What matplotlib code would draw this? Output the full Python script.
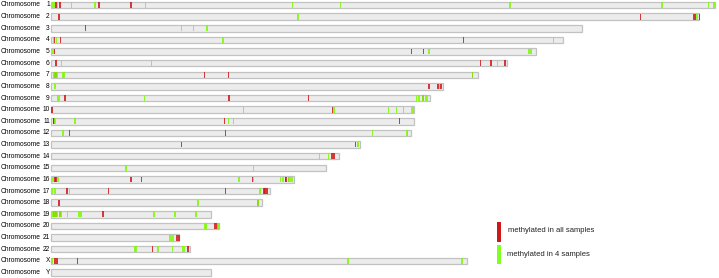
import matplotlib.pyplot as plt
from matplotlib.patches import Rectangle

# chromosome names and lengths (Mb)
chroms = [str(i) for i in range(1, 23)] + ["X", "Y"]
lengths = [249, 243, 199, 192, 182, 171, 160, 147, 142, 136, 136, 135,
           116, 108, 103, 91, 82, 79, 60, 63, 48, 52, 156, 60]

# methylated in all samples (red) - positions in Mb
red = {
    "1": [1.9, 3.4, 18.1, 29.9],
    "2": [3.1, 221.1, 241.0, 241.6, 243.1],
    "3": [13.0],
    "4": [1.3, 3.5, 154.7],
    "5": [1.3, 135.1, 139.6],
    "6": [1.8, 161.1, 165.0, 170.3],
    "7": [1.5, 1.9, 57.5, 66.6, 158.0],
    "8": [141.7, 145.1, 146.3],
    "9": [5.2, 66.7, 96.5, 139.4],
    "10": [0.4, 105.6],
    "11": [0.9, 1.2, 65.0, 130.7],
    "12": [6.9, 65.4],
    "13": [49.0, 114.1],
    "14": [105.1, 105.5, 106.1],
    "15": [],
    "16": [1.5, 1.9, 30.1, 34.0, 75.5, 87.9, 88.2, 89.1],
    "17": [6.1, 21.5, 65.4, 79.8, 80.2, 81.1],
    "18": [3.1, 77.6],
    "19": [1.2, 1.8, 3.4, 19.6],
    "20": [61.4, 62.0, 62.4],
    "21": [47.0, 47.4, 47.9],
    "22": [38.0, 51.4],
    "X": [1.6, 2.2, 10.0],
    "Y": [],
}

# methylated in 4 samples (green) - positions in Mb
green = {
    "1": [0.6, 1.1, 2.4, 7.7, 16.5, 35.5, 90.6, 108.5, 172.2, 229.2, 246.6, 248.5],
    "2": [92.7, 242.2],
    "3": [49.0, 53.4, 58.4],
    "4": [1.0, 2.1, 64.4, 188.4],
    "5": [0.5, 1.0, 141.7, 179.3, 180.0],
    "6": [3.9, 37.7, 167.4],
    "7": [1.1, 1.9, 2.5, 4.4, 4.9, 158.0],
    "8": [1.6, 145.6],
    "9": [2.5, 3.1, 35.1, 137.1, 138.0, 139.4, 140.5, 141.1],
    "10": [72.2, 106.2, 126.6, 129.5, 132.1, 135.2, 135.8],
    "11": [1.6, 8.9, 66.6, 68.4],
    "12": [4.6, 120.5, 133.4, 133.7],
    "13": [114.9, 115.2],
    "14": [100.6, 104.1],
    "15": [28.2, 75.9],
    "16": [0.5, 0.9, 2.7, 70.6, 75.9, 86.1, 86.9, 89.1, 89.6, 90.4],
    "17": [0.5, 1.6, 6.9, 78.4],
    "18": [55.2, 77.6],
    "19": [0.5, 1.2, 1.8, 2.4, 3.4, 4.0, 6.2, 10.4, 11.2, 38.7, 46.6, 54.4],
    "20": [57.7, 58.1, 62.4, 62.9],
    "21": [44.4, 45.0, 45.7],
    "22": [31.4, 31.8, 40.2, 45.5, 49.4, 50.0],
    "X": [0.4, 111.4, 154.1],
    "Y": [],
}

W, H = 719, 278
PX_PER_MB = 2.667
X0 = 51          # pixel where 0 Mb sits
Y0 = 5           # pixel centre of first row
ROW = 11.63      # pixel step between rows

RED = "#d01818"
GREEN = "#7cfc00"

plt.rcParams["font.family"] = ["Liberation Sans", "DejaVu Sans"]

fig = plt.figure(figsize=(W / 100, H / 100), dpi=100)
ax = fig.add_axes([0, 0, 1, 1])
ax.set_xlim(-X0 / PX_PER_MB, (W - X0) / PX_PER_MB)
ax.set_ylim((H - Y0) / ROW, -Y0 / ROW)
ax.axis("off")

bar_h = 0.56
mark_w = 0.6
for i, (c, L) in enumerate(zip(chroms, lengths)):
    ax.add_patch(Rectangle((0, i - bar_h / 2), L, bar_h, facecolor="#ececec",
                           edgecolor="#c2c2c2", lw=0.9, zorder=1))
    for p in red[c]:
        ax.add_patch(Rectangle((p - mark_w / 2, i - bar_h / 2 + 0.03), mark_w, bar_h - 0.06,
                               facecolor=RED, edgecolor="none", alpha=0.85, zorder=2))
    for p in green[c]:
        ax.add_patch(Rectangle((p - mark_w / 2, i - bar_h / 2 + 0.03), mark_w, bar_h - 0.06,
                               facecolor=GREEN, edgecolor="none", alpha=0.85, zorder=3))
    ax.text(-X0 / PX_PER_MB + 1 / PX_PER_MB, i, "Chromosome", fontsize=4.8,
            ha="left", va="center", color="#000000")
    ax.text(-1.2 / PX_PER_MB, i, c, fontsize=4.8, ha="right", va="center",
            color="#000000")

# legend
def fig_rect(x, y, w, h, color):
    fig.add_artist(Rectangle((x / W, 1 - (y + h) / H), w / W, h / H,
                             transform=fig.transFigure, facecolor=color,
                             edgecolor="none"))

fig_rect(496.7, 222.3, 4.6, 19.7, RED)
fig_rect(496.7, 245.0, 4.6, 19.3, "#80ff20")
fig.text(507.7 / W, 1 - 230 / H, "methylated in all samples", fontsize=5.5,
         ha="left", va="center", color="#222222")
fig.text(507.0 / W, 1 - 254.5 / H, "methylated in 4 samples", fontsize=5.5,
         ha="left", va="center", color="#222222")

fig.savefig("out.png", dpi=100)
